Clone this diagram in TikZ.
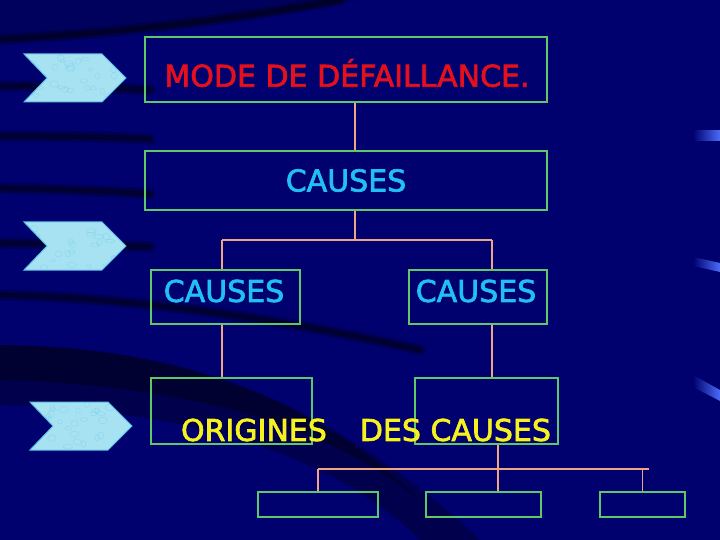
\documentclass[tikz,border=0pt]{standalone}
\usepackage{fontspec}
\setmainfont{DejaVu Sans}
\newfontfamily\treefont[FakeBold=2.2]{DejaVu Sans}
\usetikzlibrary{positioning}
\definecolor{cbg}{HTML}{00006E}
\definecolor{cframe}{HTML}{5CC86A}
\definecolor{clink}{HTML}{F0A484}
\definecolor{cred}{HTML}{E4101C}
\definecolor{ccyan}{HTML}{22C0F2}
\definecolor{cyel}{HTML}{F6F21E}
\definecolor{cchev}{HTML}{A6E2F2}
\definecolor{cchevline}{HTML}{5CC0E6}
\definecolor{cbar}{HTML}{4A6CF8}
\tikzset{
  treebox/.style={draw=cframe, line width=1.2pt, inner sep=0pt},
  treetext/.style={font=\treefont\fontsize{30}{36}\selectfont},
  treelink/.style={draw=clink, line width=1.1pt},
  swoosh/.style={draw=black, opacity=0.25, line width=11pt, line cap=round,
    postaction={draw=black, opacity=0.4, line width=5pt}},
  chevshape/.style={fill=cchev, draw=cchevline, line width=1pt}
}

\begin{document}
\begin{tikzpicture}[x=1pt, y=-1pt]
  \useasboundingbox (0,0) rectangle (720,540);
  % background
  \fill[cbg] (0,0) rectangle (720,540);
  \fill[black, opacity=0.15] (0,0) -- (360,0) .. controls (240,25) and (100,36) .. (0,40) -- cycle;
  \fill[black, opacity=0.3] (0,345) .. controls (180,347) and (330,400) .. (480,540)
    -- (420,540) .. controls (330,450) and (180,410) .. (0,405) -- cycle;
  \fill[black, opacity=0.35] (0,345) .. controls (180,347) and (320,395) .. (440,520)
    -- (420,500) .. controls (320,420) and (180,385) .. (0,380) -- cycle;
  \draw[swoosh] (-10,40) .. controls (100,35) and (220,22) .. (340,0);
  \draw[swoosh] (-10,86) .. controls (60,86) and (110,88) .. (150,90);
  \draw[swoosh] (-10,136) .. controls (60,136) and (110,137) .. (150,139);
  \draw[swoosh] (-10,188) .. controls (60,189) and (110,191) .. (150,194);
  \draw[swoosh] (-10,243) .. controls (60,244) and (110,245) .. (150,247);
  \draw[swoosh] (-10,295) .. controls (120,296) and (280,318) .. (420,350);
  % bars on the right
  \shade[left color=cbg, right color=cbar] (693,131) rectangle (720,141);
  \shade[left color=cbg, right color=cbar] (693,257) -- (720,263) -- (720,272) -- (693,266) -- cycle;
  \shade[left color=cbg, right color=cbar] (693,375) -- (720,390) -- (720,401) -- (693,387) -- cycle;
  % chevrons
  \pgfmathsetseed{7}
  \foreach \cx/\cy in {24/54, 24/222, 30/402} {
    \draw[chevshape] (\cx,\cy) -- ++(78,0) -- ++(24,24) -- ++(-24,24) -- ++(-78,0)
      -- ++(23,-24) -- cycle;
    \begin{scope}
      \clip (\cx,\cy) -- ++(78,0) -- ++(24,24) -- ++(-24,24) -- ++(-78,0) -- ++(23,-24) -- cycle;
      \foreach \i in {1,...,26}
        \draw[cchevline, opacity=0.3, line width=0.5pt]
          ({\cx+5+95*rnd},{\cy+2+44*rnd}) ellipse ({2+3*rnd} and {1.5+2*rnd});
    \end{scope}
  }

  % tree
  \node[treebox, minimum width=402pt, minimum height=65pt] (mode) at (346,69.5) {};
  \node[treetext, text=cred] (modetext) at (347,73) {MODE DE DÉFAILLANCE.};
  \node[treebox, minimum width=402pt, minimum height=59pt, treetext, text=ccyan] (causes) at (346,180.5) {CAUSES};
  \node[treebox, minimum width=149pt, minimum height=54pt] (causesL) at (225.5,297) {};
  \node[treetext, text=ccyan] (causesLtext) at (224,291) {CAUSES};
  \node[treebox, minimum width=138pt, minimum height=54pt] (causesR) at (478,297) {};
  \node[treetext, text=ccyan] (causesRtext) at (476,291) {CAUSES};
  \node[treebox, minimum width=161pt, minimum height=66pt] (origL) at (231.5,411) {};
  \node[treebox, minimum width=143pt, minimum height=66pt] (origR) at (486.5,411) {};
  \node[treetext, text=cyel] (origtext) at (366,430) {ORIGINES\hspace{1.1em}DES CAUSES};
  \node[treebox, minimum width=120pt, minimum height=25pt] (leafA) at (318,504.5) {};
  \node[treebox, minimum width=115pt, minimum height=25pt] (leafB) at (483.5,504.5) {};
  \node[treebox, minimum width=85pt, minimum height=25pt] (leafC) at (642.5,504.5) {};

  % links
  \coordinate (jtop) at (355,240);
  \coordinate (jL) at (222,240);
  \coordinate (jR) at (492,240);
  \coordinate (jbot) at (498,469);
  \coordinate (jbotL) at (318,469);
  \coordinate (jbotR) at (649,469);
  \draw[treelink] (mode.south -| jtop) -- (causes.north -| jtop);
  \draw[treelink] (causes.south -| jtop) -- (jtop);
  \draw[treelink] (jL) -- (jR);
  \draw[treelink] (jL) -- (causesL.north -| jL);
  \draw[treelink] (jR) -- (causesR.north -| jR);
  \draw[treelink] (causesL.south -| jL) -- (origL.north -| jL);
  \draw[treelink] (causesR.south -| jR) -- (origR.north -| jR);
  \draw[treelink] (origR.south -| jbot) -- (leafB.north -| jbot);
  \draw[treelink] (jbotL) -- (jbotR);
  \draw[treelink] (jbotL) -- (leafA.north);
  \draw[treelink] (leafC.north) -- (leafC.north |- jbot);
\end{tikzpicture}
\end{document}
